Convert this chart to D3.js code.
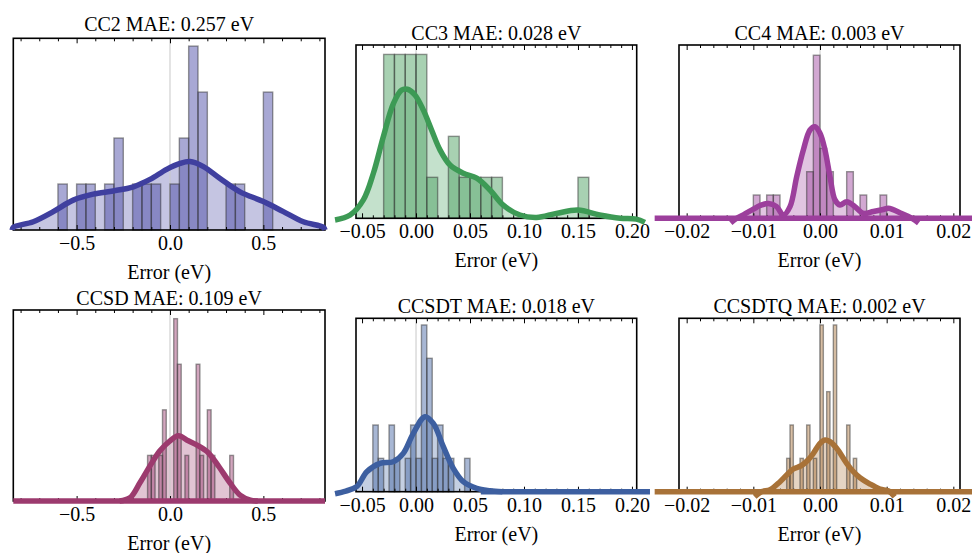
<!DOCTYPE html>
<html><head><meta charset="utf-8">
<script src="https://cdn.jsdelivr.net/npm/d3@7"></script>
<style>
html,body{margin:0;padding:0;background:#fff;}
svg{display:block;}
text{font-family:"Liberation Serif","Times New Roman",serif;fill:#000;}
</style>
</head><body>
<svg id="chart" width="972" height="553"></svg>
<script>
// ---------------- DATA ----------------
const methodNames = ["CC2", "CC3", "CC4", "CCSD", "CCSDT", "CCSDTQ"];
const maeValues   = ["0.257", "0.028", "0.003", "0.109", "0.018", "0.002"];
const binWidths   = [0.05, 0.01, 0.001, 0.02, 0.005, 0.0005];

// histogram bins: left edges and counts
const cc2BinStarts = [-0.6, -0.5, -0.45, -0.35, -0.3, -0.2, -0.15, -0.1, 0, 0.05, 0.1, 0.15, 0.3, 0.35, 0.5];
const cc2Counts    = [1, 1, 1, 1, 2, 1, 1, 1, 1, 2, 4, 3, 1, 1, 3];
const cc3BinStarts = [-0.03, -0.02, -0.01, 0, 0.01, 0.03, 0.04, 0.05, 0.06, 0.07, 0.15];
const cc3Counts    = [4, 4, 4, 4, 1, 2, 1, 1, 1, 1, 1];
const cc4BinStarts = [-0.01, -0.008, -0.007, -0.002, -0.001, 0, 0.001, 0.004, 0.006, 0.009];
const cc4Counts    = [1, 1, 1, 2, 7, 3, 2, 2, 1, 1];
const ccsdBinStarts = [-0.12, -0.1, -0.06, -0.04, 0.02, 0.04, 0.08, 0.14, 0.16, 0.2, 0.22, 0.32];
const ccsdCounts    = [1, 1, 1, 2, 4, 3, 1, 3, 1, 2, 1, 1];
const ccsdtBinStarts = [-0.04, -0.035, -0.025, -0.02, -0.01, -0.005, 0, 0.005, 0.01, 0.015, 0.02, 0.025, 0.03, 0.045];
const ccsdtCounts    = [2, 1, 2, 1, 1, 2, 1, 5, 4, 1, 2, 1, 1, 1];
const ccsdtqBinStarts = [-0.005, -0.0045, -0.003, -0.002, -0.001, 0, 0.001, 0.002, 0.004, 0.005];
const ccsdtqCounts    = [1, 2, 1, 2, 1, 5, 3, 5, 2, 1];

// smoothed density curves (x in eV, y in count units)
const cc2Curve = [[-0.845,0.0],[-0.839,0.06],[-0.732,0.18],[-0.625,0.40],[-0.518,0.65],[-0.411,0.78],[-0.304,0.85],[-0.196,0.94],[-0.107,1.10],[-0.018,1.32],[0.054,1.45],[0.107,1.49],[0.179,1.38],[0.268,1.12],[0.375,0.83],[0.5,0.62],[0.607,0.40],[0.714,0.18],[0.821,0.06],[0.83,0.0]];
const cc3Curve = [[-0.075,-0.04],[-0.061,0.08],[-0.0488,0.45],[-0.0395,1.10],[-0.0303,1.99],[-0.021,2.80],[-0.0133,3.13],[-0.008,3.15],[-0.001,3.01],[0.0068,2.64],[0.0145,2.15],[0.0222,1.67],[0.0315,1.30],[0.0438,1.10],[0.0562,0.98],[0.0685,0.69],[0.0808,0.32],[0.0963,0.08],[0.1117,0.02],[0.130,0.12],[0.150,0.20],[0.170,0.08],[0.189,0.0],[0.204,-0.02],[0.212,-0.1]];
const cc4Curve = [[-0.0134,-0.2],[-0.0125,0],[-0.0115,0.15],[-0.010,0.39],[-0.009,0.55],[-0.00775,0.64],[-0.0065,0.5],[-0.0055,0.14],[-0.0045,0.5],[-0.0035,1.78],[-0.0025,2.93],[-0.0015,3.79],[-0.00075,3.93],[0,3.65],[0.00075,2.93],[0.0015,1.78],[0.00225,0.79],[0.003,0.57],[0.004,0.71],[0.00525,0.5],[0.0065,0.21],[0.008,0.29],[0.0095,0.38],[0.01025,0.43],[0.01225,0.21],[0.0138,0],[0.0148,-0.2]];
const ccsdCurve = [[-0.27,0],[-0.214,0.07],[-0.161,0.4],[-0.107,0.77],[-0.054,1.10],[0,1.32],[0.045,1.43],[0.098,1.32],[0.152,1.21],[0.205,1.06],[0.259,0.77],[0.321,0.4],[0.375,0.13],[0.43,0.02],[0.47,0]];
const ccsdtCurve = [[-0.075,-0.06],[-0.065,0.02],[-0.055,0.15],[-0.0456,0.6],[-0.0333,0.85],[-0.021,0.9],[-0.0118,1.15],[-0.0025,1.75],[0.0083,2.25],[0.016,2.05],[0.0253,1.35],[0.0345,0.7],[0.0438,0.3],[0.0562,0.1],[0.0685,0.03],[0.08,0]];
const ccsdtqCurve = [[-0.0098,-0.15],[-0.0088,0],[-0.0075,0.06],[-0.006,0.3],[-0.005,0.5],[-0.004,0.68],[-0.0028,0.78],[-0.0018,0.95],[-0.001,1.15],[0,1.45],[0.00075,1.55],[0.0015,1.5],[0.0025,1.3],[0.004,0.85],[0.005,0.6],[0.006,0.42],[0.0075,0.23],[0.009,0.08],[0.0103,0.02],[0.0112,-0.15]];

// flat (zero-density) part of each curve: [from, to] in eV, or null
const flatExtents = [null, null, [-0.0248, 0.0228], [-0.839, 0.83], [0.06, 0.2167], [-0.0248, 0.0228]];

// tick values and labels
const wideTicks = [-0.5, 0, 0.5];
const wideTickLabels = ["\u22120.5", "0.0", "0.5"];
const midTicks = [-0.05, 0, 0.05, 0.1, 0.15, 0.2];
const midTickLabels = ["\u22120.05", "0.00", "0.05", "0.10", "0.15", "0.20"];
const narrowTicks = [-0.02, -0.01, 0, 0.01, 0.02];
const narrowTickLabels = ["\u22120.02", "\u22120.01", "0.00", "0.01", "0.02"];
const axisTitle = "Error (eV)";

// ---------------- STYLE / LAYOUT ----------------
const colors = ["#3f3f9f", "#3d9a55", "#9c3f9c", "#9c3a6e", "#3d5fa0", "#a87238"];
const wideAxis   = {ticks: wideTicks, labels: wideTickLabels, minorStep: 0.1, domain: [-0.839, 0.830]};
const midAxis    = {ticks: midTicks, labels: midTickLabels, minorStep: 0.01, domain: [-0.0556, 0.2044]};
const narrowAxis = {ticks: narrowTicks, labels: narrowTickLabels, minorStep: 0.002, domain: [-0.02115, 0.021]};
const layout = [
  {left: 13.3, right: 325,   top: 38.3,  bottom: 230,   titleY: 31,    yMax: 4.17, axis: wideAxis},
  {left: 356,  right: 636.7, top: 45,    bottom: 218.3, titleY: 39.5,  yMax: 4.23, axis: midAxis},
  {left: 679,  right: 960,   top: 45,    bottom: 218.3, titleY: 39.5,  yMax: 7.44, axis: narrowAxis},
  {left: 13.3, right: 325,   top: 310,   bottom: 501,   titleY: 305,   yMax: 4.19, axis: wideAxis},
  {left: 356,  right: 636.7, top: 318.3, bottom: 491.7, titleY: 313,   yMax: 5.2,  axis: midAxis},
  {left: 679,  right: 960,   top: 318.3, bottom: 491.7, titleY: 313,   yMax: 5.2,  axis: narrowAxis}
];

const binStarts = [cc2BinStarts, cc3BinStarts, cc4BinStarts, ccsdBinStarts, ccsdtBinStarts, ccsdtqBinStarts];
const binCounts = [cc2Counts, cc3Counts, cc4Counts, ccsdCounts, ccsdtCounts, ccsdtqCounts];
const curves = [cc2Curve, cc3Curve, cc4Curve, ccsdCurve, ccsdtCurve, ccsdtqCurve];

// ---------------- DRAW ----------------
const svg = d3.select("#chart");
const defs = svg.append("defs");

methodNames.forEach((name, i) => {
  const L = layout[i];
  const color = colors[i];
  const bw = binWidths[i];
  const x = d3.scaleLinear().domain(L.axis.domain).range([L.left, L.right]);
  const y = d3.scaleLinear().domain([0, L.yMax]).range([L.bottom, L.top]);
  const bins = binStarts[i].map((s, j) => ({start: s, count: binCounts[i][j]}));
  const g = svg.append("g");

  const clipId = "frameclip" + i;
  defs.append("clipPath").attr("id", clipId).append("rect")
    .attr("x", L.left).attr("y", L.top)
    .attr("width", L.right - L.left).attr("height", L.bottom - L.top);

  // density fill
  const area = d3.area()
    .x(d => x(d[0])).y0(y(0)).y1(d => y(Math.max(0, d[1])))
    .curve(d3.curveCatmullRom.alpha(0.5));
  g.append("path").datum(curves[i]).attr("d", area)
    .attr("fill", color).attr("fill-opacity", 0.3)
    .attr("clip-path", `url(#${clipId})`);

  // zero reference line
  g.append("line")
    .attr("x1", x(0)).attr("x2", x(0)).attr("y1", L.top).attr("y2", L.bottom)
    .attr("stroke", "#c8c8c8").attr("stroke-width", 1);

  // histogram bars
  g.append("g").selectAll("rect").data(bins).join("rect")
    .attr("x", d => x(d.start))
    .attr("width", d => x(d.start + bw) - x(d.start))
    .attr("y", d => y(d.count))
    .attr("height", d => y(0) - y(d.count))
    .attr("fill", color).attr("fill-opacity", 0.45)
    .attr("stroke", "#333").attr("stroke-opacity", 0.5).attr("stroke-width", 1.4);

  // frame
  g.append("rect")
    .attr("x", L.left).attr("y", L.top)
    .attr("width", L.right - L.left).attr("height", L.bottom - L.top)
    .attr("fill", "none").attr("stroke", "#000").attr("stroke-width", 1.6);

  // ticks
  const d0 = L.axis.domain[0], d1 = L.axis.domain[1], st = L.axis.minorStep;
  const minor = d3.range(Math.ceil(d0 / st - 1e-9), Math.floor(d1 / st + 1e-9) + 1).map(k => +(k * st).toFixed(6))
    .filter(v => !L.axis.ticks.some(t => Math.abs(t - v) < st / 10));
  const styleAxis = sel => {
    sel.select(".domain").remove();
    sel.attr("font-family", null).attr("font-size", null);
    sel.selectAll("line").attr("stroke", "#000").attr("stroke-width", 1);
  };
  g.append("g").attr("transform", `translate(0,${L.bottom})`)
    .call(d3.axisBottom(x).tickValues(minor).tickSizeInner(-3).tickSizeOuter(0).tickFormat(""))
    .call(styleAxis);
  g.append("g").attr("transform", `translate(0,${L.top})`)
    .call(d3.axisTop(x).tickValues(minor).tickSizeInner(-3).tickSizeOuter(0).tickFormat(""))
    .call(styleAxis);
  g.append("g").attr("transform", `translate(0,${L.top})`)
    .call(d3.axisTop(x).tickValues(L.axis.ticks).tickSizeInner(-5).tickSizeOuter(0).tickFormat(""))
    .call(styleAxis);
  const bottomMajor = g.append("g").attr("transform", `translate(0,${L.bottom})`)
    .call(d3.axisBottom(x).tickValues(L.axis.ticks).tickSizeInner(-5).tickSizeOuter(0)
      .tickFormat((d, j) => L.axis.labels[j]))
    .call(styleAxis);
  bottomMajor.selectAll("text")
    .attr("y", 20).attr("dy", null)
    .style("font-family", '"Liberation Serif","Times New Roman",serif')
    .style("font-size", "20px").attr("fill", "#000");

  // density curve line (drawn over frame)
  const line = d3.line().x(d => x(d[0])).y(d => y(d[1])).curve(d3.curveCatmullRom.alpha(0.5));
  if (flatExtents[i]) {
    g.append("path").datum([[flatExtents[i][0], 0], [flatExtents[i][1], 0]]).attr("d", d3.line().x(d => x(d[0])).y(d => y(d[1])))
      .attr("fill", "none").attr("stroke", color).attr("stroke-width", 5.5);
  }
  g.append("path").datum(curves[i]).attr("d", line)
    .attr("fill", "none").attr("stroke", color).attr("stroke-width", 5.5)
    .attr("stroke-linejoin", "round").attr("stroke-linecap", "butt");

  // title and axis label
  g.append("text").attr("x", (L.left + L.right) / 2).attr("y", L.titleY)
    .attr("text-anchor", "middle").style("font-size", "20px")
    .text(`${name} MAE: ${maeValues[i]} eV`);
  g.append("text").attr("x", (L.left + L.right) / 2).attr("y", L.bottom + 49)
    .attr("text-anchor", "middle").style("font-size", "20px")
    .text(axisTitle);
});
</script>
</body></html>
